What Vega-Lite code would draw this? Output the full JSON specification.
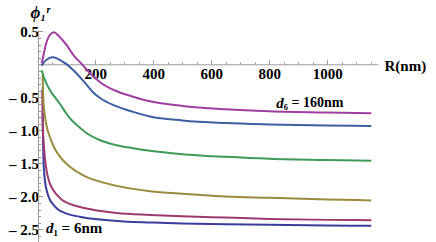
{
  "$schema": "https://vega.github.io/schema/vega-lite/v6.json",
  "autosize": "none",
  "width": 340,
  "height": 212,
  "padding": {"left": 38, "top": 30, "right": 58, "bottom": 0},
  "background": "white",
  "view": {"stroke": null},
  "config": {
    "axis": {
      "grid": false,
      "domainColor": "#999999",
      "tickColor": "#999999",
      "labelFont": "Liberation Serif",
      "labelFontWeight": "bold",
      "labelFontSize": 15,
      "labelColor": "black",
      "titleFont": "Liberation Serif",
      "titleFontWeight": "bold",
      "titleColor": "black"
    }
  },
  "data": {
    "values": [
      {"d":"d1","R":19,"v":-0.73},{"d":"d1","R":19.5,"v":-0.9},{"d":"d1","R":20.5,"v":-1.2},{"d":"d1","R":22,"v":-1.45},{"d":"d1","R":25,"v":-1.68},{"d":"d1","R":30,"v":-1.85},{"d":"d1","R":37,"v":-1.97},{"d":"d1","R":44,"v":-2.05},{"d":"d1","R":55,"v":-2.12},{"d":"d1","R":70,"v":-2.19},{"d":"d1","R":102,"v":-2.26},{"d":"d1","R":150,"v":-2.31},{"d":"d1","R":217,"v":-2.35},{"d":"d1","R":300,"v":-2.38},{"d":"d1","R":389,"v":-2.395},{"d":"d1","R":500,"v":-2.41},{"d":"d1","R":650,"v":-2.42},{"d":"d1","R":800,"v":-2.43},{"d":"d1","R":1000,"v":-2.44},{"d":"d1","R":1152,"v":-2.445},
      {"d":"d2","R":17.5,"v":-0.38},{"d":"d2","R":19,"v":-0.85},{"d":"d2","R":22,"v":-1.15},{"d":"d2","R":26,"v":-1.38},{"d":"d2","R":33,"v":-1.62},{"d":"d2","R":42,"v":-1.78},{"d":"d2","R":55,"v":-1.9},{"d":"d2","R":67,"v":-1.97},{"d":"d2","R":85,"v":-2.05},{"d":"d2","R":110,"v":-2.11},{"d":"d2","R":158,"v":-2.17},{"d":"d2","R":220,"v":-2.22},{"d":"d2","R":274,"v":-2.25},{"d":"d2","R":389,"v":-2.28},{"d":"d2","R":500,"v":-2.3},{"d":"d2","R":650,"v":-2.32},{"d":"d2","R":800,"v":-2.34},{"d":"d2","R":1000,"v":-2.355},{"d":"d2","R":1152,"v":-2.36},
      {"d":"d3","R":19,"v":-0.16},{"d":"d3","R":21,"v":-0.5},{"d":"d3","R":25,"v":-0.72},{"d":"d3","R":31,"v":-0.9},{"d":"d3","R":44,"v":-1.1},{"d":"d3","R":60,"v":-1.27},{"d":"d3","R":79,"v":-1.4},{"d":"d3","R":110,"v":-1.54},{"d":"d3","R":159,"v":-1.68},{"d":"d3","R":220,"v":-1.78},{"d":"d3","R":274,"v":-1.84},{"d":"d3","R":389,"v":-1.92},{"d":"d3","R":500,"v":-1.96},{"d":"d3","R":650,"v":-2.0},{"d":"d3","R":800,"v":-2.02},{"d":"d3","R":1000,"v":-2.045},{"d":"d3","R":1152,"v":-2.06},
      {"d":"d4","R":16,"v":-0.09},{"d":"d4","R":22,"v":-0.18},{"d":"d4","R":30,"v":-0.27},{"d":"d4","R":44,"v":-0.39},{"d":"d4","R":60,"v":-0.49},{"d":"d4","R":79,"v":-0.6},{"d":"d4","R":100,"v":-0.74},{"d":"d4","R":120,"v":-0.85},{"d":"d4","R":140,"v":-0.93},{"d":"d4","R":170,"v":-1.04},{"d":"d4","R":217,"v":-1.15},{"d":"d4","R":270,"v":-1.22},{"d":"d4","R":331,"v":-1.27},{"d":"d4","R":389,"v":-1.31},{"d":"d4","R":500,"v":-1.36},{"d":"d4","R":650,"v":-1.4},{"d":"d4","R":800,"v":-1.43},{"d":"d4","R":1000,"v":-1.45},{"d":"d4","R":1152,"v":-1.46},
      {"d":"d5","R":16,"v":-0.02},{"d":"d5","R":22,"v":0.02},{"d":"d5","R":30,"v":0.06},{"d":"d5","R":40,"v":0.09},{"d":"d5","R":55,"v":0.106},{"d":"d5","R":68,"v":0.09},{"d":"d5","R":85,"v":0.05},{"d":"d5","R":102,"v":0.0},{"d":"d5","R":125,"v":-0.09},{"d":"d5","R":159,"v":-0.25},{"d":"d5","R":190,"v":-0.41},{"d":"d5","R":217,"v":-0.51},{"d":"d5","R":270,"v":-0.63},{"d":"d5","R":331,"v":-0.72},{"d":"d5","R":389,"v":-0.79},{"d":"d5","R":500,"v":-0.85},{"d":"d5","R":650,"v":-0.89},{"d":"d5","R":800,"v":-0.91},{"d":"d5","R":1000,"v":-0.925},{"d":"d5","R":1152,"v":-0.935},
      {"d":"d6","R":16,"v":0.015},{"d":"d6","R":20,"v":0.1},{"d":"d6","R":25,"v":0.2},{"d":"d6","R":30,"v":0.3},{"d":"d6","R":40,"v":0.42},{"d":"d6","R":50,"v":0.47},{"d":"d6","R":58,"v":0.485},{"d":"d6","R":70,"v":0.45},{"d":"d6","R":85,"v":0.38},{"d":"d6","R":102,"v":0.29},{"d":"d6","R":125,"v":0.14},{"d":"d6","R":155,"v":0.0},{"d":"d6","R":175,"v":-0.1},{"d":"d6","R":217,"v":-0.27},{"d":"d6","R":270,"v":-0.4},{"d":"d6","R":331,"v":-0.49},{"d":"d6","R":389,"v":-0.56},{"d":"d6","R":500,"v":-0.63},{"d":"d6","R":650,"v":-0.68},{"d":"d6","R":800,"v":-0.71},{"d":"d6","R":1000,"v":-0.73},{"d":"d6","R":1152,"v":-0.74}
    ]
  },
  "layer": [
    {
      "mark": {"type": "line", "strokeOpacity": 0},
      "encoding": {
        "x": {"field": "R", "type": "quantitative",
          "scale": {"domain": [3, 1175], "nice": false, "zero": false},
          "axis": {"orient": "bottom", "offset": -177.7, "values": [50,100,150,250,300,350,450,500,550,650,700,750,850,900,950,1050,1100,1150],
            "labels": false, "domain": false, "tickSize": -2.5, "title": null}},
        "y": {"field": "v", "type": "quantitative",
          "scale": {"domain": [-2.69, 0.52], "nice": false, "zero": false},
          "axis": {"orient": "left", "values": [-2.6,-2.4,-2.3,-2.2,-2.1,-1.9,-1.8,-1.7,-1.6,-1.4,-1.3,-1.2,-1.1,-0.9,-0.8,-0.7,-0.6,-0.4,-0.3,-0.2,-0.1,0.1,0.2,0.3,0.4],
            "labels": false, "domain": false, "tickSize": -2.5, "title": null}},
        "detail": {"field": "d"}
      }
    },
    {
      "mark": {"type": "line", "strokeWidth": 2, "interpolate": "monotone"},
      "encoding": {
        "x": {"field": "R", "type": "quantitative",
          "axis": {"orient": "bottom", "offset": -177.7, "values": [0,200,400,600,800,1000], "format": "d",
            "labelFont": "Liberation Serif", "labelFontWeight": "bold", "labelFontSize": 15,
            "labelExpr": "datum.value == 0 ? '' : datum.label",
            "tickSize": -4.5, "labelPadding": 7, "title": "R(nm)", "titleFontSize": 15,
            "titleAnchor": "start", "titleAlign": "left", "titleBaseline": "middle", "titleX": 346, "titleY": 1}},
        "y": {"field": "v", "type": "quantitative",
          "axis": {"orient": "left", "values": [0.5,0,-0.5,-1,-1.5,-2,-2.5], "format": ".1f",
            "labelFont": "Liberation Serif", "labelFontWeight": "bold", "labelFontSize": 15,
            "labelExpr": "datum.value == 0 ? '' : replace(datum.label, '−', '– ')",
            "tickSize": -4.5, "labelPadding": 4, "title": "ϕ₁ʳ", "titleFontSize": 17, "titleFontStyle": "italic",
            "titleAngle": 0, "titleAlign": "left", "titleBaseline": "middle", "titleX": -8, "titleY": -18}},
        "color": {"field": "d", "type": "nominal", "legend": null,
          "scale": {"domain": ["d1","d2","d3","d4","d5","d6"], "range": ["#3C3C9C","#9C3C6E","#9A8C3F","#3F9A5A","#3F5FA0","#9E3FA0"]}}
      }
    },
    {
      "data": {"values": [{"t": "d"}]},
      "mark": {"type": "text", "font": "Liberation Serif", "fontWeight": "bold", "fontStyle": "italic", "fontSize": 15, "align": "right", "baseline": "middle"},
      "encoding": {
        "x": {"datum": 850, "type": "quantitative", "axis": null},
        "y": {"datum": -0.586, "type": "quantitative", "axis": null},
        "text": {"field": "t"}
      }
    },
    {
      "data": {"values": [{"t": "₆ = 160nm"}]},
      "mark": {"type": "text", "font": "Liberation Serif", "fontWeight": "bold", "fontSize": 14, "align": "left", "baseline": "middle"},
      "encoding": {
        "x": {"datum": 850, "type": "quantitative", "axis": null},
        "y": {"datum": -0.586, "type": "quantitative", "axis": null},
        "text": {"field": "t"}
      }
    },
    {
      "data": {"values": [{"t": "d"}]},
      "mark": {"type": "text", "font": "Liberation Serif", "fontWeight": "bold", "fontStyle": "italic", "fontSize": 15, "align": "right", "baseline": "middle"},
      "encoding": {
        "x": {"datum": 56, "type": "quantitative", "axis": null},
        "y": {"datum": -2.48, "type": "quantitative", "axis": null},
        "text": {"field": "t"}
      }
    },
    {
      "data": {"values": [{"t": "₁ = 6nm"}]},
      "mark": {"type": "text", "font": "Liberation Serif", "fontWeight": "bold", "fontSize": 15, "align": "left", "baseline": "middle"},
      "encoding": {
        "x": {"datum": 56, "type": "quantitative", "axis": null},
        "y": {"datum": -2.48, "type": "quantitative", "axis": null},
        "text": {"field": "t"}
      }
    }
  ],
  "resolve": {"axis": {"x": "independent", "y": "independent"}}
}
